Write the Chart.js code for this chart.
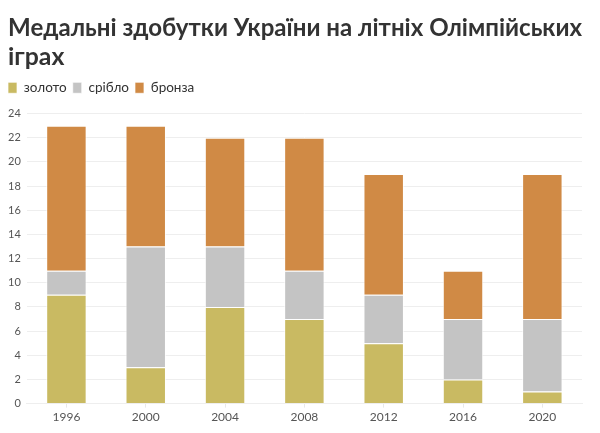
<!DOCTYPE html>
<html><head><meta charset="utf-8">
<script src="https://cdn.jsdelivr.net/npm/chart.js@4"></script>
<style>html,body{margin:0;padding:0;background:#fff;}#wrap{width:600px;height:433px;}</style>
</head><body><div id="wrap"><canvas id="c"></canvas></div>
<script>
const years = ['1996','2000','2004','2008','2012','2016','2020'];
const gold = [9, 3, 8, 7, 5, 2, 1];
const silver = [2, 10, 5, 4, 4, 5, 6];
const bronze = [12, 10, 9, 11, 10, 4, 12];
const seriesNames = ['золото', 'срібло', 'бронза'];
const titleLines = ['Медальні здобутки України на літніх Олімпійських', 'іграх'];
const colors = ['#c9ba62', '#c4c4c4', '#d08a45'];
const FONT = 'Lato, "Open Sans", sans-serif';
const legendGap = {
  id: 'legendGap',
  beforeInit(chart) {
    const fit = chart.legend.fit;
    chart.legend.fit = function () { fit.call(this); this.height += 9; };
  },
  afterLayout(chart) {
    if (chart.titleBlock) chart.titleBlock.left += 6;
  }
};
new Chart(document.getElementById('c'), {
  type: 'bar',
  plugins: [legendGap],
  data: {
    labels: years,
    datasets: [gold, silver, bronze].map((d, i) => ({
      label: seriesNames[i], data: d, backgroundColor: colors[i],
      borderColor: 'rgba(255,255,255,0.7)', borderWidth: 1,
      barPercentage: 0.51, categoryPercentage: 1
    }))
  },
  options: {
    responsive: true, maintainAspectRatio: false, animation: false,
    layout: { padding: { left: 2, right: 18, top: 10, bottom: 7 } },
    plugins: {
      title: { display: true, text: titleLines, align: 'start', color: '#333',
        font: { family: FONT, size: 24.8, weight: 'bold', lineHeight: 1.15 }, padding: { top: 4, bottom: 4 } },
      legend: { align: 'start', labels: { boxWidth: 9, boxHeight: 11, color: '#333', padding: 6,
        font: { family: FONT, size: 13.5 } } },
      tooltip: { enabled: false }
    },
    scales: {
      x: { stacked: true, grid: { display: true, drawOnChartArea: false, offset: false, tickLength: 4, color: '#e8e8e8' },
        border: { color: '#eee' },
        ticks: { color: '#555', padding: 2, font: { family: FONT, size: 12 } } },
      y: { stacked: true, min: 0, max: 24, ticks: { stepSize: 2, color: '#555', padding: 6, font: { family: FONT, size: 11 } },
        grid: { color: '#eee', drawTicks: false }, border: { display: false } }
    }
  }
});
</script></body></html>
